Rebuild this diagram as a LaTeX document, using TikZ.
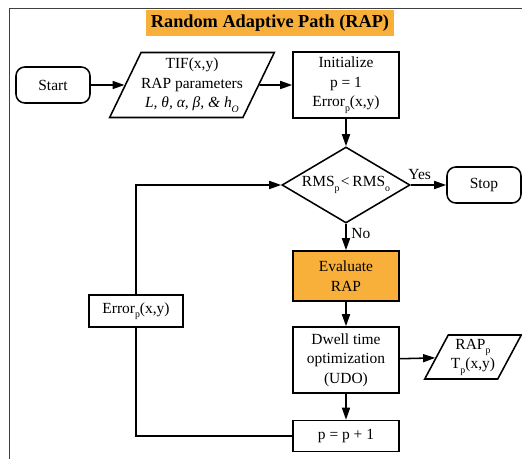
\documentclass[tikz,border=0pt]{standalone}
\usepackage{fontspec}
\setmainfont{Liberation Serif}
\usetikzlibrary{positioning, shapes.geometric, arrows.meta}

\definecolor{rapOrange}{RGB}{249,176,59}
\definecolor{frameGray}{RGB}{64,64,64}
% low, small subscript
\newcommand{\lowsub}[1]{\raisebox{-0.6ex}{\fontsize{7}{7}\selectfont #1}}

\begin{document}
\begin{tikzpicture}[x=0.025cm, y=-0.025cm, line width=1.1pt,
    >={Triangle[length=0.3cm,width=0.2cm]},
    font=\fontsize{11}{14}\selectfont,
    box/.style={draw, rectangle, minimum width=2.65cm, align=center, inner sep=2pt},
    term/.style={draw, rectangle, rounded corners=0.22cm, minimum width=1.85cm, minimum height=0.9cm},
    io/.style={draw, trapezium, trapezium left angle=60, trapezium right angle=120,
        trapezium stretches=true, align=center, inner xsep=0pt, inner ysep=0pt},
    decision/.style={draw, diamond, aspect=1.7, minimum width=3.2cm, minimum height=1.9cm, inner sep=0pt}]
    \useasboundingbox (0,0) rectangle (522,459);
    % Frame
    \draw[frameGray, line width=0.6pt] (9,459) -- (9,8) -- (522,8);

    % Title
    \node[fill=rapOrange, minimum width=6.2cm, minimum height=0.6cm,
        font=\fontsize{13}{13}\selectfont\bfseries] (title) at (270,23) {Random Adaptive Path (RAP)};

    % Main components
    \node[term] (start) at (53,85) {Start};
    \node[io, minimum width=4.1cm, minimum height=1.625cm] (tif) at (192,85)
        {TIF(x,y)\\RAP parameters\\{\itshape L, θ, α, β, \& h\lowsub{O}}};
    \node[box, minimum height=1.65cm] (init) at (346,85) {Initialize\\p = 1\\Error\lowsub{p}(x,y)};
    \node[decision] (test) at (346,185) {RMS\lowsub{p}\kern1pt<\kern2pt RMS\lowsub{o}};
    \node[term] (stop) at (484,185) {Stop};
    \node[box, fill=rapOrange, minimum height=1.25cm] (eval) at (346,276) {Evaluate\\RAP};
    \node[box, minimum height=1.65cm] (udo) at (346,360) {Dwell time\\optimization\\(UDO)};
    \node[io, minimum width=2.425cm, minimum height=1.1cm] (out) at (473,357) {RAP\lowsub{p}\\T\lowsub{p}(x,y)};
    \node[box, minimum width=2.35cm, minimum height=0.8cm] (err) at (136,311) {Error\lowsub{p}(x,y)};
    \node[box, minimum height=0.775cm] (inc) at (346,436) {p = p + 1};

    % Connections
    \draw[->] (start) -- (tif);
    \draw[->] (tif) -- (init);
    \draw[->] (init) -- (test);
    \draw[->] (test) -- node[above, pos=0.25] {Yes} (stop);
    \draw[->] (test) -- node[right, pos=0.35] {No} (eval);
    \draw[->] (eval) -- (udo);
    \draw[->] (udo) -- (out);
    \draw[->] (udo) -- (inc);

    % Loop back
    \draw (inc) -| (err);
    \draw[->] (err) |- (test);
\end{tikzpicture}
\end{document}
